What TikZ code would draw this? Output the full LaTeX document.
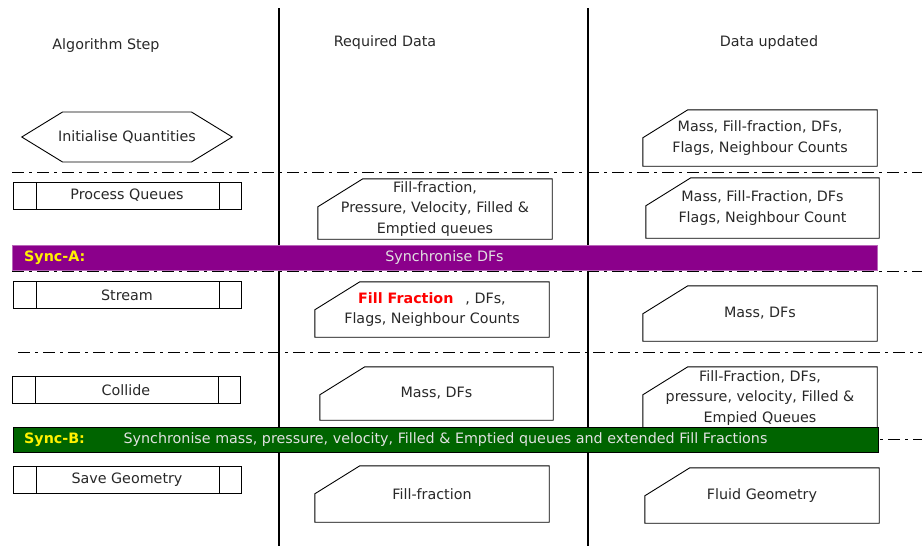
\documentclass[tikz,border=0pt]{standalone}
\usepackage{fontspec}
\setmainfont{DejaVu Sans}
\usetikzlibrary{shapes.symbols, positioning}

\definecolor{syncpurple}{RGB}{139,0,139}
\definecolor{syncgreen}{RGB}{0,100,0}
\definecolor{synctext}{RGB}{225,225,225}
\definecolor{ink}{RGB}{40,40,40}

\tikzstyle{head} = [text=ink]
\tikzstyle{prep} = [signal, signal to=west and east, signal pointer angle=63, draw=black, line width=0.9pt, minimum height=50pt, inner ysep=0pt, inner xsep=-4.5pt]
\tikzstyle{process} = [rectangle, draw=black, line width=0.9pt, minimum width=228pt, minimum height=27pt, inner sep=0pt,
	path picture={
		\draw[line width=0.9pt] ([xshift=23pt]path picture bounding box.north west) -- ([xshift=23pt]path picture bounding box.south west);
		\draw[line width=0.9pt] ([xshift=-22pt]path picture bounding box.north east) -- ([xshift=-22pt]path picture bounding box.south east);
	}]
\tikzstyle{data} = [rectangle, minimum width=234pt, minimum height=56pt, inner sep=0pt, align=center]
\tikzstyle{sync} = [rectangle, draw=black, line width=0.8pt, minimum width=865pt, minimum height=25pt, inner sep=0pt, text=synctext]
\tikzstyle{synclabel} = [text=yellow, font=\fontsize{14.3}{20.5}\selectfont\bfseries]
\tikzstyle{rowline} = [line width=0.9pt, dash pattern=on 12pt off 5pt on 3pt off 5pt]
\tikzstyle{colline} = [line width=1.2pt]

\begin{document}
\begin{tikzpicture}[x=1pt, y=-1pt, font=\fontsize{14.3}{20.5}\selectfont, text=ink]
	\useasboundingbox (0,0) rectangle (922,546);

	% column separators and row separators
	\coordinate (ColA top) at (279,8);
	\coordinate (ColA bot) at (279,546);
	\coordinate (ColB top) at (588,8);
	\coordinate (ColB bot) at (588,546);
	\draw [colline] (ColA top) -- (ColA bot);
	\draw [colline] (ColB top) -- (ColB bot);
	\foreach \y/\x in {172/12, 271/12, 352/18, 439/13}
		\draw [rowline] (\x,\y) -- (922,\y);

	% headings
	\node (HeadStep) [head] at (106,46) {Algorithm Step};
	\node (HeadReq) [head] at (385,43) {Required Data};
	\node (HeadUpd) [head] at (769,43) {Data updated};

	% algorithm steps
	\node (Init) [prep] at (127,137) {Initialise Quantities};
	\node (Queues) [process] at (127,195.5) {Process Queues};
	\node (Stream) [process] at (127,295) {Stream};
	\node (Collide) [process] at (126,390) {Collide};
	\node (SaveGeo) [process] at (127,479.5) {Save Geometry};

	% required data
	\node (ReqQueues) [data, minimum height=60pt] at (435,209) {Fill-fraction,\\Pressure, Velocity, Filled \&\\Emptied queues};
	\node (ReqStream) [data, minimum height=55pt] at (432,309.5) {{\color{red}\bfseries Fill Fraction}\hspace{12pt}, DFs,\\Flags, Neighbour Counts};
	\node (ReqCollide) [data, minimum width=233pt, minimum height=53pt] at (436.5,393.5) {Mass, DFs};
	\node (ReqSave) [data] at (432,494) {Fill-fraction};

	% updated data
	\node (UpdInit) [data] at (760,138) {Mass, Fill-fraction, DFs,\\Flags, Neighbour Counts};
	\node (UpdQueues) [data, minimum width=233pt, minimum height=60pt] at (762.5,208) {Mass, Fill-Fraction, DFs\\Flags, Neighbour Count};
	\node (UpdStream) [data, minimum height=55pt] at (760,313.5) {Mass, DFs};
	\node (UpdCollide) [data, minimum height=62pt] at (760,398) {Fill-Fraction, DFs,\\pressure, velocity, Filled \&\\Empied Queues};
	\node (UpdSave) [data, minimum height=55pt] at (762,495.5) {Fluid Geometry};

	% data boxes with the cut corner
	\foreach \n in {ReqQueues, ReqStream, ReqCollide, ReqSave, UpdInit, UpdQueues, UpdStream, UpdCollide, UpdSave}
		\draw [line width=0.9pt] ([xshift=45pt]\n.north west) -- (\n.north east) -- (\n.south east) -- (\n.south west) -- ([yshift=-28pt]\n.north west) -- cycle;

	% synchronisation bars
	\node (SyncA) [sync, fill=syncpurple, draw=syncpurple!60!white] at (444.5,257.5) {Synchronise DFs};
	\node (SyncALabel) [synclabel, right=9pt of SyncA.west] {Sync-A:};
	\node (SyncB) [sync, fill=syncgreen] at (445.5,439.5) {Synchronise mass, pressure, velocity, Filled \& Emptied queues and extended Fill Fractions};
	\node (SyncBLabel) [synclabel, right=8pt of SyncB.west] {Sync-B:};
\end{tikzpicture}
\end{document}
